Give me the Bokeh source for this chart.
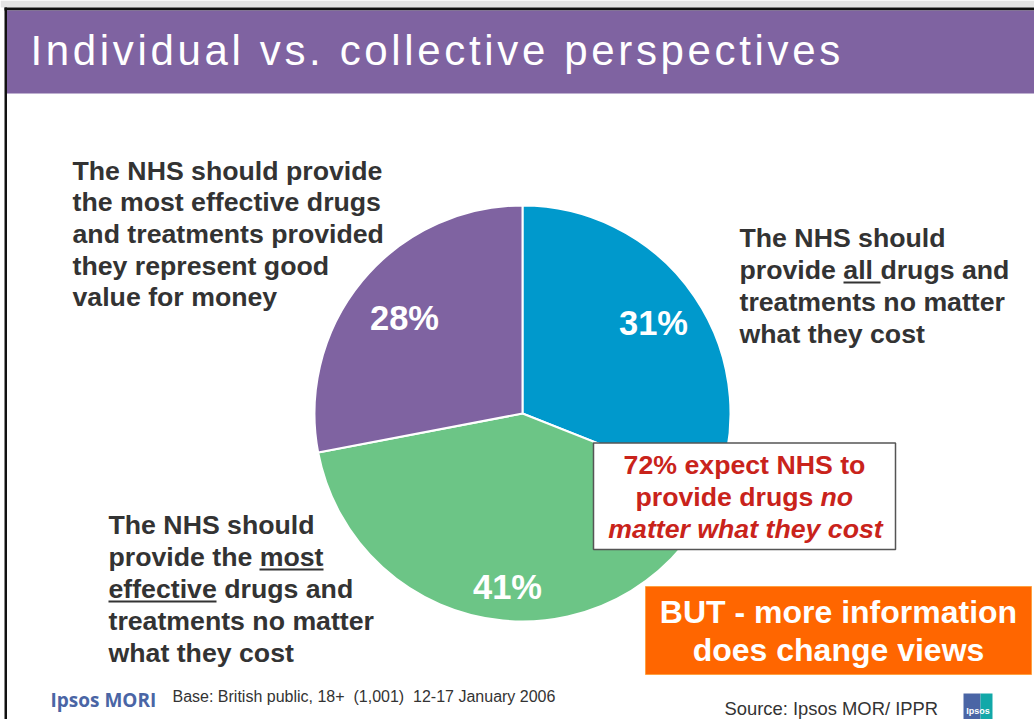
from bokeh.embed import file_html
from bokeh.resources import INLINE
from bokeh.plotting import figure
from bokeh.io import curdoc
from bokeh.models import ColumnDataSource, CustomJS
from bokeh.core.properties import value
from math import pi

# Survey shares, clockwise from twelve o'clock
segments = ["All drugs", "Most effective drugs", "Good value for money"]
shares = [31, 41, 28]
share_labels = ["31%", "41%", "28%"]
share_colors = ["#0099cc", "#6cc586", "#7f63a1"]

W, H = 1034, 719
INK = "#333333"
RED = "#c9231b"
TITLE = "Individual vs. collective perspectives"

p = figure(width=W, height=H, x_range=(0, W), y_range=(0, H), output_backend="svg",
           toolbar_location=None, min_border=0, outline_line_color=None,
           background_fill_color="white", border_fill_color="white")
p.axis.visible = False
p.grid.visible = False


def Y(py):
    """Convert a distance from the page top into the plot's y value."""
    return H - py


def box(x0, y0, x1, y1, fill, line=None, width=1):
    p.quad(left=x0, right=x1, top=Y(y0), bottom=Y(y1), fill_color=fill,
           line_color=line, line_width=width)


def write(x, base, lines, size, color=INK, style="bold", align="left", step=32,
          font="Liberation Sans"):
    # The SVG backend draws alphabetic text low by about 0.37 em, so lift it back.
    lift = 0.37 * size
    for i, line in enumerate(lines):
        p.text(x=[x], y=[Y(base + i * step - lift)], text=[line], text_font=value(font),
               text_font_size=f"{size}px", text_font_style=style, text_color=color,
               text_align=align, text_baseline="alphabetic")


# Slide frame and title band
box(0, 0, W, 7, "#e4e4e4")
box(4, 7, W, 10, "#111111")
box(4, 7, 6.5, H, "#111111")
box(6.5, 10, W, 93, "#7f63a1")
write(30, 66, [TITLE], 42, "#ffffff", "normal")

# Pie, built from the shares
cx, cy, radius = 522, 413, 208
total = sum(shares)
running = 0
starts, ends = [], []
for s in shares:
    starts.append(pi / 2 - 2 * pi * (running + s) / total)
    ends.append(pi / 2 - 2 * pi * running / total)
    running += s
pie = ColumnDataSource(dict(start=starts, end=ends, color=share_colors))
p.wedge(x=cx, y=Y(cy), radius=radius, start_angle="start", end_angle="end",
        fill_color="color", line_color="white", line_width=2, source=pie)

write(653, 335, [share_labels[0]], 34.5, "#ffffff", align="center")
write(507, 599, [share_labels[1]], 34.5, "#ffffff", align="center")
write(404, 330, [share_labels[2]], 34.5, "#ffffff", align="center")

# Statements around the pie
write(72, 180, ["The NHS should provide", "the most effective drugs",
                "and treatments provided", "they represent good",
                "value for money"], 26.7, step=31.7)
write(739, 247, ["The NHS should", "provide all drugs and",
                 "treatments no matter", "what they cost"], 26.7, step=32)
write(108, 534, ["The NHS should", "provide the most",
                 "effective drugs and", "treatments no matter",
                 "what they cost"], 26.7, step=32)
p.segment(x0=[843, 259, 108], x1=[880, 323, 216],
          y0=[Y(282), Y(569), Y(601)], y1=[Y(282), Y(569), Y(601)],
          line_color=INK, line_width=2)

# Red callout
box(593, 442.5, 895, 549, "#ffffff", "#555555", 1.5)
write(744, 474, ["72% expect NHS to"], 26.7, RED, align="center")
write(635, 506, ["provide drugs"], 26.7, RED)
write(820, 506, ["no"], 26.7, RED, "bold italic")
write(745, 538, ["matter what they cost"], 26.7, RED, "bold italic", align="center")

# Orange callout
box(645, 586, 1031, 674, "#ff6600", "#ffa040", 1)
write(838, 623, ["BUT - more information", "does change views"], 32, "#ffffff",
      align="center", step=38)

# Footer
write(50, 707, ["Ipsos MORI"], 19, "#4a65a5", font="Open Sans")
write(172, 702, ["Base: British public, 18+\u00a0\u00a0(1,001)\u00a0\u00a012-17 January 2006"],
      16, INK, "normal")
write(724, 714.5, ["Source: Ipsos MOR/ IPPR"], 18.4, INK, "normal")
box(963, 693, 980, 719, "#4a65a5")
box(980, 693, 992, 719, "#12a8a8")
write(977.5, 714, ["Ipsos"], 9, "#ffffff", align="center")

# The slide title is letter-spaced; the text glyph has no property for that,
# so the rendered SVG node gets it once the page is up.
spacing = CustomJS(code="""
    const walk = (root) => {
        for (const el of root.querySelectorAll('*')) {
            if (el.tagName.toLowerCase() === 'text' &&
                el.textContent.replace(/\\s/g, ' ').includes('collective perspectives'))
                el.style.letterSpacing = '3.65px';
            if (el.shadowRoot) walk(el.shadowRoot);
        }
    };
    for (const delay of [0, 100, 400, 1000]) setTimeout(() => walk(document), delay);
""")
doc = curdoc()
doc.add_root(p)
doc.js_on_event("document_ready", spacing)

open("out.html", "w").write(file_html(p, INLINE))
